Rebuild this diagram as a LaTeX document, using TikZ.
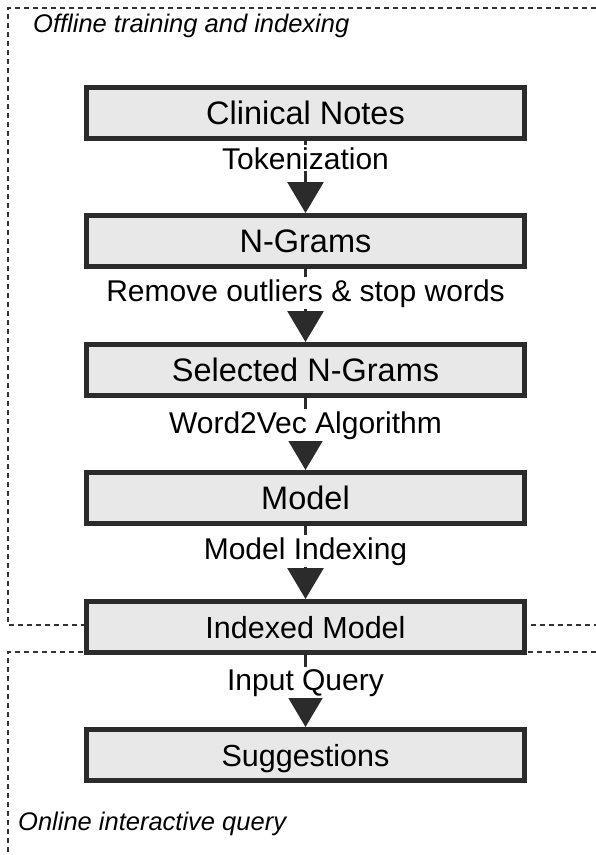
\documentclass[tikz,border=0pt]{standalone}
\usepackage{fontspec}
\setmainfont{Liberation Sans}
\usetikzlibrary{arrows.meta}
\definecolor{boxline}{HTML}{2B2B2B}
\definecolor{boxfill}{HTML}{E8E8E8}
\definecolor{frameline}{HTML}{333333}
\tikzset{
  stepbox/.style={draw=boxline, fill=boxfill, line width=5pt, minimum width=438pt,
    minimum height=51pt, inner sep=0pt, text depth=0pt},
  bigtxt/.style={font=\fontsize{32.5}{36}\selectfont, text height=23.5pt},
  smalltxt/.style={font=\fontsize{30.5}{34}\selectfont, text height=22pt},
  lbl/.style={fill=white, inner sep=2pt, anchor=base, font=\fontsize{30}{33}\selectfont},
  conn/.style={draw=boxline, line width=3pt, -{Triangle[width=36pt,length=31pt]}},
  frame/.style={draw=frameline, line width=2.2pt, dash pattern=on 5pt off 4pt},
  framelbl/.style={anchor=base west, inner sep=0pt}
}
\begin{document}
\begin{tikzpicture}[x=1pt,y=-1pt]
\useasboundingbox (0,0) rectangle (596,855);
% frames
\draw[frame] (596,8) -- (8,8) -- (8,625) -- (596,625);
\draw[frame] (596,652) -- (8,652) -- (8,855);
\node[framelbl] (offl) at (33,32) {\fontsize{25.5}{28}\selectfont\itshape Offline training and indexing};
\node[framelbl] (onl) at (18,830) {\fontsize{25.5}{28}\selectfont\itshape Online interactive query};
% boxes
\node[stepbox, bigtxt] (b1) at (305.5,113) {Clinical Notes};
\node[stepbox, bigtxt] (b2) at (305.5,241) {N-Grams};
\node[stepbox, bigtxt] (b3) at (305.5,370) {Selected N-Grams};
\node[stepbox, bigtxt] (b4) at (305.5,498) {Model};
\node[stepbox, smalltxt] (b5) at (305.5,627) {Indexed Model};
\node[stepbox, smalltxt] (b6) at (305.5,755) {Suggestions};
% connectors
\draw[conn] (b1) -- (b2);
\draw[conn] (b2) -- (b3);
\draw[conn] (b3) -- (b4);
\draw[conn] (b4) -- (b5);
\draw[conn] (b5) -- (b6);
% labels
\node[lbl] (l1) at (305.5,169) {Tokenization};
\node[lbl] (l2) at (305.5,301) {Remove outliers \& stop words};
\node[lbl] (l3) at (305.5,433) {Word2Vec Algorithm};
\node[lbl] (l4) at (305.5,559) {Model Indexing};
\node[lbl] (l5) at (305.5,690) {Input Query};
\end{tikzpicture}
\end{document}
